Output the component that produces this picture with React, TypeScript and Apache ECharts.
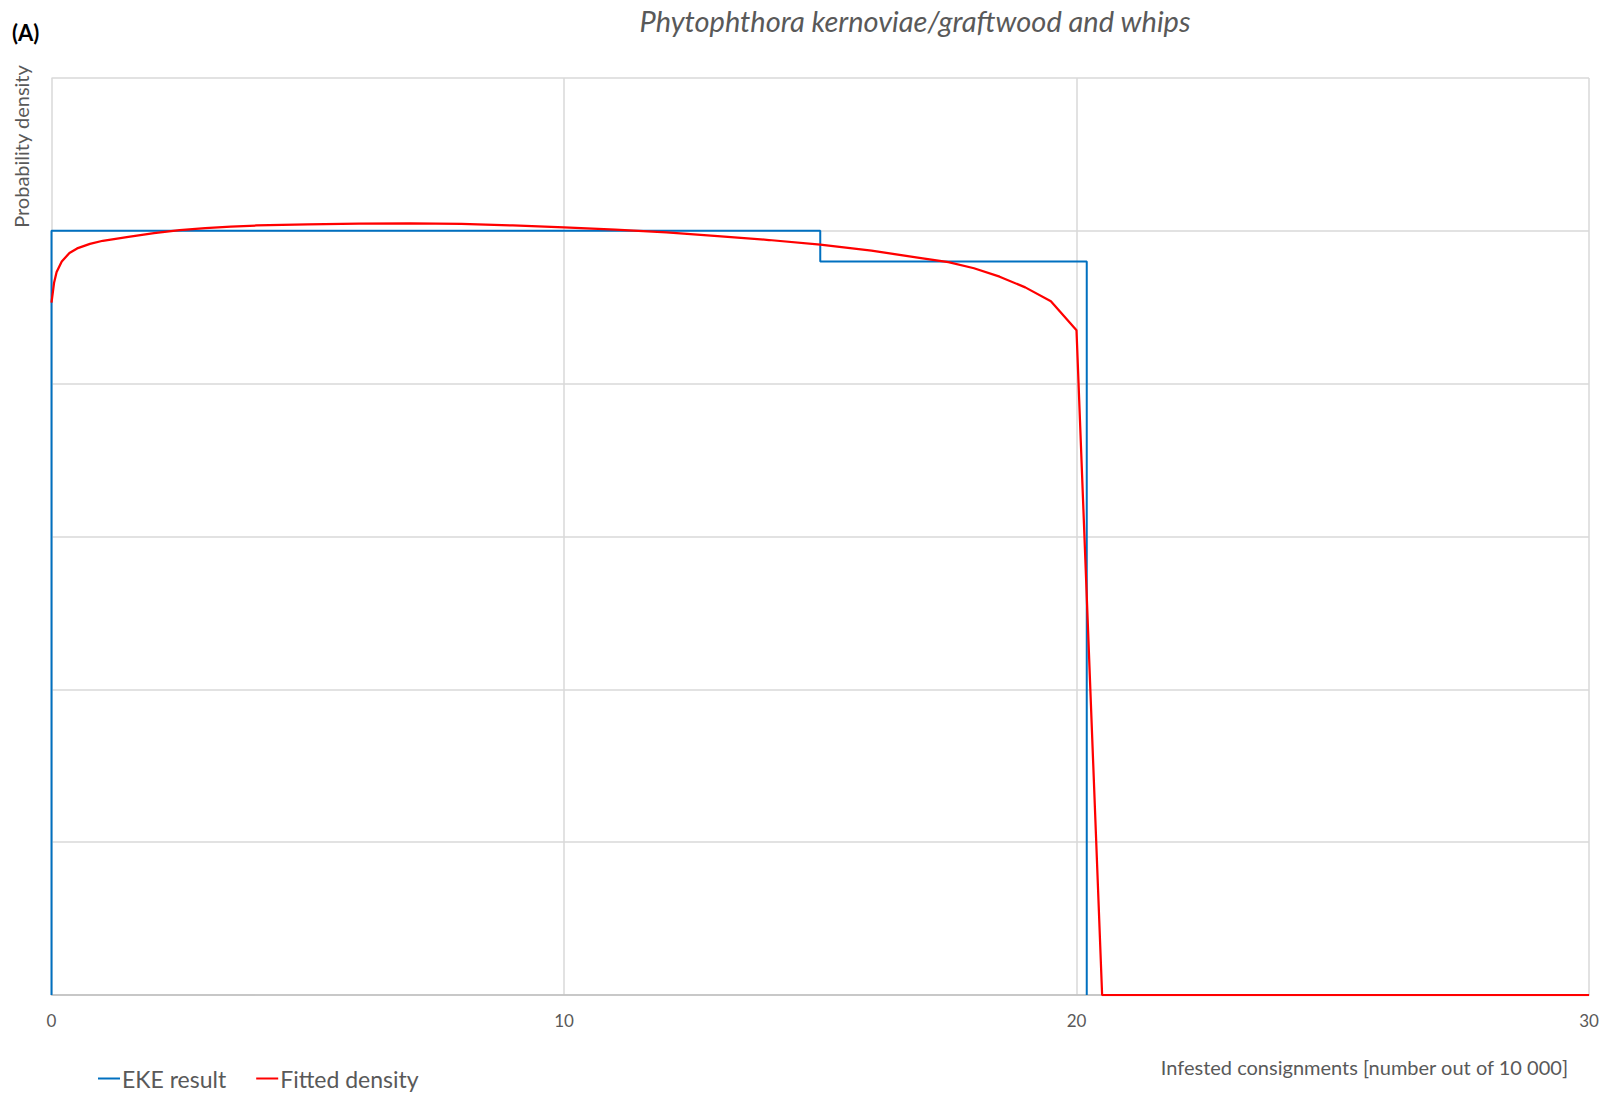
import React, { useEffect, useRef } from "react";
import * as echarts from "echarts";

const titleText = "Phytophthora kernoviae/graftwood and whips";
const panelLabel = "(A)";
const yAxisTitle = "Probability density";
const xAxisTitle = "Infested consignments [number out of 10 000]";
const seriesNames = ["EKE result", "Fitted density"];

// EKE result (step histogram outline)
const ekeX = [0, 0, 15, 15, 20.2, 20.2];
const ekeY = [0, 5, 5, 4.8, 4.8, 0];

// Fitted density
const fitX = [0, 0.05, 0.1, 0.2, 0.35, 0.5, 0.75, 1, 1.5, 2, 2.5, 3, 3.5, 4, 5, 6, 7, 8, 9, 10, 11, 12, 13, 14, 15, 16, 17, 17.5, 18, 18.5, 19, 19.5, 20, 20.5, 30];
const fitY = [4.53, 4.66, 4.73, 4.8, 4.855, 4.885, 4.915, 4.935, 4.96, 4.985, 5.004, 5.018, 5.028, 5.035, 5.043, 5.047, 5.048, 5.045, 5.035, 5.022, 5.008, 4.99, 4.965, 4.94, 4.91, 4.87, 4.82, 4.795, 4.755, 4.7, 4.63, 4.54, 4.35, 0, 0];

const xTicks = [0, 10, 20, 30];

const FONT = "Lato";
const TXT = "#595959";

export default function App() {
  const ref = useRef<HTMLDivElement>(null);
  useEffect(() => {
    if (!ref.current) return;
    const chart = echarts.init(ref.current, undefined, { renderer: "svg" });
    chart.setOption({
      animation: false,
      backgroundColor: "#ffffff",
      textStyle: { fontFamily: FONT },
      grid: { left: 51.5, right: 21, top: 78, bottom: 98, containLabel: false },
      xAxis: {
        type: "value",
        min: xTicks[0],
        max: xTicks[xTicks.length - 1],
        interval: 10,
        axisLine: { show: true, lineStyle: { color: "#bfbfbf", width: 1.5 } },
        axisTick: { show: false },
        axisLabel: { color: TXT, fontSize: 17, margin: 17, fontFamily: FONT },
        splitLine: { show: true, lineStyle: { color: "#d9d9d9", width: 1.5 } },
      },
      yAxis: {
        type: "value",
        min: 0,
        max: 6,
        interval: 1,
        axisLine: { show: false },
        axisTick: { show: false },
        axisLabel: { show: false },
        splitLine: { show: true, lineStyle: { color: "#d9d9d9", width: 1.5 } },
      },
      legend: {
        left: 93,
        top: 1062,
        icon: "rect",
        itemWidth: 22,
        itemHeight: 2,
        itemGap: 30,
        textStyle: { color: TXT, fontSize: 23, fontFamily: FONT, padding: [0, 0, 0, -3] },
        data: seriesNames,
      },
      series: [
        {
          name: seriesNames[0],
          type: "line",
          data: ekeX.map((x, i) => [x, ekeY[i]]),
          showSymbol: false,
          symbol: "none",
          lineStyle: { color: "#0070c0", width: 2 },
          itemStyle: { color: "#0070c0" },
          z: 3,
        },
        {
          name: seriesNames[1],
          type: "line",
          data: fitX.map((x, i) => [x, fitY[i]]),
          showSymbol: false,
          symbol: "none",
          lineStyle: { color: "#ff0000", width: 2.25 },
          itemStyle: { color: "#ff0000" },
          z: 4,
        },
      ],
      graphic: [
        {
          type: "text",
          x: 915,
          y: 20,
          style: {
            text: titleText,
            fill: TXT,
            font: `italic 29px ${FONT}`,
            align: "center",
            verticalAlign: "middle",
          },
        },
        {
          type: "text",
          x: 12,
          y: 32,
          style: {
            text: panelLabel,
            fill: "#000000",
            font: `bold 22px ${FONT}`,
            align: "left",
            verticalAlign: "middle",
          },
        },
        {
          type: "text",
          x: 21,
          y: 146.5,
          rotation: Math.PI / 2,
          style: {
            text: yAxisTitle,
            fill: TXT,
            font: `20px ${FONT}`,
            align: "center",
            verticalAlign: "middle",
          },
        },
        {
          type: "text",
          x: 1568,
          y: 1067,
          style: {
            text: xAxisTitle,
            fill: TXT,
            font: `20px ${FONT}`,
            align: "right",
            verticalAlign: "middle",
          },
        },
      ],
    });
    return () => chart.dispose();
  }, []);
  return (
    <div
      ref={ref}
      style={{ position: "fixed", left: 0, top: 0, width: 1610, height: 1093 }}
    />
  );
}
